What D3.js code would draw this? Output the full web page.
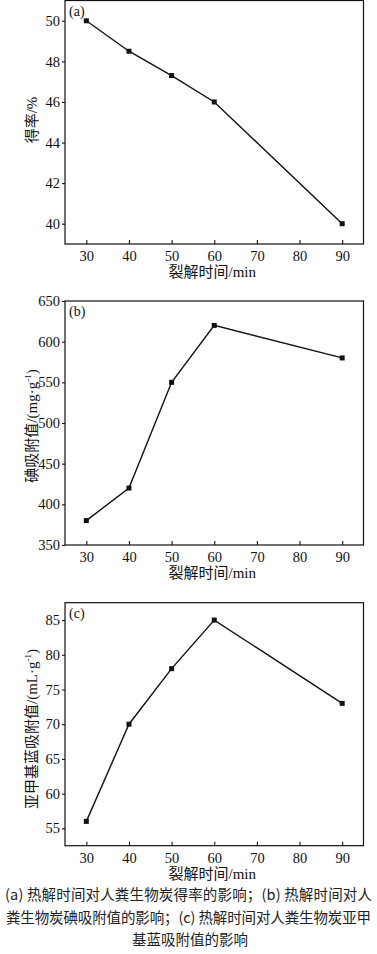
<!DOCTYPE html>
<html>
<head>
<meta charset="utf-8">
<script src="https://cdn.jsdelivr.net/npm/d3@7"></script>
<style>
  body { margin: 0; background: #fff; }
  svg { display: block; }
</style>
</head>
<body>
<div id="chart"></div>
<script>
// 1: DATA
const times = [30, 40, 50, 60, 90];
const yieldRate = [50, 48.5, 47.3, 46, 40];
const iodineValue = [380, 420, 550, 620, 580];
const mbValue = [56, 70, 78, 85, 73];

const xTicks = [30, 40, 50, 60, 70, 80, 90];
const yTicksA = [40, 42, 44, 46, 48, 50];
const yTicksB = [350, 400, 450, 500, 550, 600, 650];
const yTicksC = [55, 60, 65, 70, 75, 80, 85];

const xTitle = "裂解时间/min";
const captionLines = [
  "(a) 热解时间对人粪生物炭得率的影响；(b) 热解时间对人",
  "粪生物炭碘吸附值的影响；(c) 热解时间对人粪生物炭亚甲",
  "基蓝吸附值的影响"
];

// 2: LAYOUT
const W = 377, H = 954;
const left = 65, right = 363.5;
const serif = "'Liberation Serif', 'Noto Sans CJK SC', serif";
const cjk = "'Noto Sans CJK SC', sans-serif";

const svg = d3.select("#chart")
    .append("svg")
    .attr("width", W)
    .attr("height", H);

const panels = [
  { tag: "(a)", values: yieldRate, domain: [39, 51], ticks: yTicksA, top: 0.5, bottom: 244,
    labelY: 120, label: ["得率/%"] },
  { tag: "(b)", values: iodineValue, domain: [350, 650], ticks: yTicksB, top: 301, bottom: 545,
    labelY: 426, label: ["碘吸附值/(mg·g", "-1", ")"] },
  { tag: "(c)", values: mbValue, domain: [52.5, 87.5], ticks: yTicksC, top: 602.7, bottom: 845.7,
    labelY: 729, label: ["亚甲基蓝吸附值/(mL·g", "-1", ")"] }
];

const xScale = d3.scaleLinear().domain([25, 95]).range([left, right]);

panels.forEach(p => {
  const yScale = d3.scaleLinear().domain(p.domain).range([p.bottom, p.top]);
  const g = svg.append("g");

  // frame
  g.append("rect")
      .attr("x", left)
      .attr("y", p.top)
      .attr("width", right - left)
      .attr("height", p.bottom - p.top)
      .attr("fill", "none")
      .attr("stroke", "#111")
      .attr("stroke-width", 1.2);

  // x axis, ticks pointing inward
  const xAxis = g.append("g")
      .attr("transform", `translate(0,${p.bottom})`)
      .call(d3.axisBottom(xScale).tickValues(xTicks).tickSize(-4).tickPadding(7).tickSizeOuter(0));
  xAxis.select(".domain").remove();
  xAxis.selectAll("line").attr("stroke", "#111").attr("stroke-width", 1.1);
  xAxis.selectAll("text")
      .attr("font-family", serif)
      .attr("font-size", 14.5)
      .attr("fill", "#111");

  // y axis, ticks outward
  const yAxis = g.append("g")
      .attr("transform", `translate(${left},0)`)
      .call(d3.axisLeft(yScale).tickValues(p.ticks).tickSize(3).tickPadding(2).tickSizeOuter(0));
  yAxis.select(".domain").remove();
  yAxis.selectAll("line").attr("stroke", "#111").attr("stroke-width", 1.1);
  yAxis.selectAll("text")
      .attr("font-family", serif)
      .attr("font-size", 14.5)
      .attr("fill", "#111");

  // line
  const line = d3.line()
      .x((d, i) => xScale(times[i]))
      .y(d => yScale(d));
  g.append("path")
      .datum(p.values)
      .attr("d", line)
      .attr("fill", "none")
      .attr("stroke", "#111")
      .attr("stroke-width", 1.4);

  // square markers
  g.selectAll("rect.pt")
      .data(p.values)
      .enter()
      .append("rect")
      .attr("class", "pt")
      .attr("x", (d, i) => xScale(times[i]) - 2.5)
      .attr("y", d => yScale(d) - 2.5)
      .attr("width", 5)
      .attr("height", 5)
      .attr("fill", "#111");

  // panel tag
  g.append("text")
      .attr("x", left + 4)
      .attr("y", p.top + 15)
      .attr("font-family", serif)
      .attr("font-size", 14)
      .attr("fill", "#111")
      .text(p.tag);

  // x title
  g.append("text")
      .attr("x", (left + right) / 2 - 2)
      .attr("y", p.bottom + 33)
      .attr("text-anchor", "middle")
      .attr("font-family", serif)
      .attr("font-size", 15)
      .attr("fill", "#111")
      .text(xTitle);

  // y title
  const yt = g.append("text")
      .attr("transform", `translate(37,${p.labelY}) rotate(-90)`)
      .attr("text-anchor", "middle")
      .attr("font-family", serif)
      .attr("font-size", 15)
      .attr("fill", "#111");
  yt.append("tspan").text(p.label[0]);
  if (p.label.length > 1) {
    yt.append("tspan")
        .attr("dy", -6)
        .attr("font-size", 9)
        .text(p.label[1]);
    yt.append("tspan")
        .attr("dy", 6)
        .text(p.label[2]);
  }
});

// 3: CAPTION
const capY = [900, 923, 945];
captionLines.forEach((t, i) => {
  const txt = svg.append("text")
      .attr("y", capY[i])
      .attr("font-family", cjk)
      .attr("font-size", 14.5)
      .attr("fill", "#222")
      .text(t);
  if (i < 2) {
    txt.attr("x", i === 0 ? 5 : 6)
       .attr("textLength", i === 0 ? 367 : 365)
       .attr("lengthAdjust", "spacing");
  } else {
    txt.attr("x", 190).attr("text-anchor", "middle");
  }
});
</script>
</body>
</html>
